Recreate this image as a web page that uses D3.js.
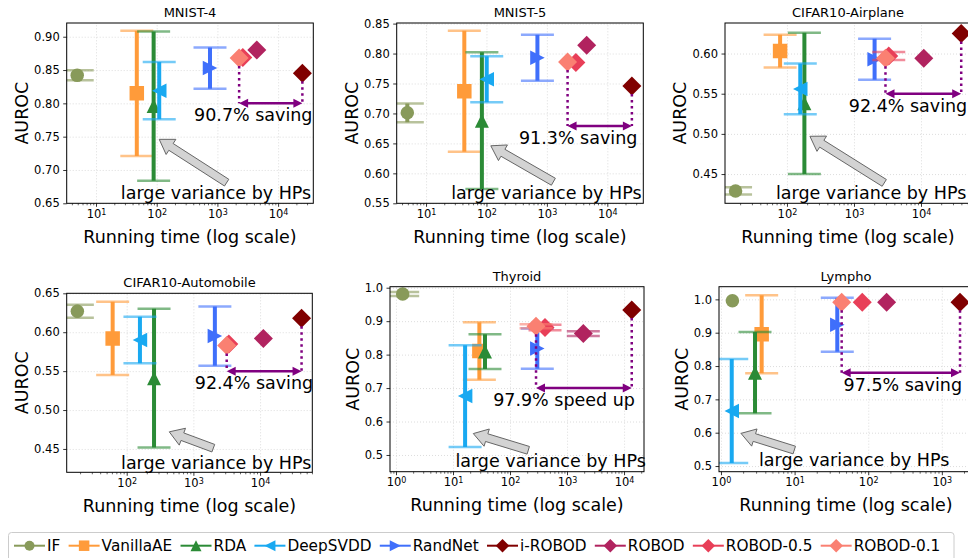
<!DOCTYPE html>
<html><head><meta charset="utf-8">
<script src="https://cdn.jsdelivr.net/npm/d3@7"></script>
<style>
body{margin:0;background:#fff}
svg{display:block}
text{font-family:"DejaVu Sans",sans-serif}
</style>
</head><body>
<svg id="c" width="968" height="558"></svg>
<script>
// ---------------- data ----------------
const datasets = ["MNIST-4", "MNIST-5", "CIFAR10-Airplane", "CIFAR10-Automobile", "Thyroid", "Lympho"];
const methods = ["IF", "VanillaAE", "RDA", "DeepSVDD", "RandNet", "i-ROBOD", "ROBOD", "ROBOD-0.5", "ROBOD-0.1"];
const runTime = [
  [4.9, 47, 89, 110, 755, 25100, 4460, 2620, 2280],
  [4.9, 43, 84, 101, 697, 25500, 4560, 3020, 2200],
  [17.1, 79, 182, 158, 2030, 39800, 11000, 3300, 2950],
  [18.2, 61.6, 257, 158, 2100, 41900, 11200, 3400, 3160],
  [1.31, 29, 36.4, 16.3, 301, 13650, 1930, 411, 286],
  [1.43, 3.57, 2.9, 1.4, 38, 1766, 178, 83, 43.6]
];
const aurocMean = [
  [0.842, 0.815, 0.796, 0.819, 0.853, 0.845, 0.880, 0.869, 0.868],
  [0.701, 0.737, 0.688, 0.757, 0.793, 0.746, 0.814, 0.785, 0.786],
  [0.429, 0.603, 0.538, 0.556, 0.593, 0.625, 0.594, 0.597, 0.594],
  [0.627, 0.592, 0.541, 0.590, 0.595, 0.618, 0.592, 0.585, 0.583],
  [0.981, 0.811, 0.809, 0.676, 0.818, 0.933, 0.863, 0.881, 0.885],
  [0.996, 0.895, 0.780, 0.665, 0.924, 0.991, 0.991, 0.991, 0.991]
];
const aurocStd = [
  [0.0075, 0.094, 0.112, 0.043, 0.031, 0, 0, 0, 0],
  [0.0155, 0.101, 0.114, 0.0385, 0.0385, 0, 0, 0, 0],
  [0.0045, 0.0205, 0.088, 0.0315, 0.0255, 0, 0, 0.005, 0],
  [0.0083, 0.047, 0.089, 0.030, 0.038, 0, 0, 0, 0],
  [0.006, 0.086, 0.052, 0.152, 0.060, 0, 0.007, 0.008, 0.006],
  [0, 0.117, 0.122, 0.156, 0.081, 0, 0, 0, 0]
];
const xLimits = [[3.29, 38000], [3.27, 39400], [11.9, 55700], [12.6, 60700], [0.785, 22400], [0.94, 2650]];
const yLimits = [[0.65, 0.9206], [0.55, 0.851], [0.4136, 0.638], [0.420, 0.65], [0.45, 1.003], [0.483, 1.038]];
const xTickExp = [[1, 2, 3, 4], [1, 2, 3, 4], [2, 3, 4], [2, 3, 4], [0, 1, 2, 3, 4], [0, 1, 2, 3]];
const yTickValues = [
  [0.65, 0.70, 0.75, 0.80, 0.85, 0.90],
  [0.55, 0.60, 0.65, 0.70, 0.75, 0.80, 0.85],
  [0.45, 0.50, 0.55, 0.60],
  [0.45, 0.50, 0.55, 0.60, 0.65],
  [0.5, 0.6, 0.7, 0.8, 0.9, 1.0],
  [0.5, 0.6, 0.7, 0.8, 0.9, 1.0]
];
const yTickFormat = [".2f", ".2f", ".2f", ".2f", ".1f", ".1f"];
const savingLabels = ["90.7% saving", "91.3% saving", "92.4% saving", "92.4% saving", "97.9% speed up", "97.5% saving"];
const savingArrowAuroc = [0.80, 0.679, 0.55, 0.55, 0.70, 0.78];
const savingTextTime = [3900, 3290, 6400, 8100, 886, 295];
const noteLabel = "large variance by HPs";
const noteTextTime = [950, 980, 1800, 2200, 515, 64.5];
const noteTextAuroc = [0.666, 0.568, 0.4266, 0.4317, 0.484, 0.5195];
const noteTipTime = [110, 118, 220, 435, 22.7, 1.87];
const noteTipAuroc = [0.746, 0.646, 0.497, 0.472, 0.564, 0.598];
const noteTailTime = [1420, 1280, 2830, 1990, 209, 9.9];
const noteTailAuroc = [0.681, 0.586, 0.439, 0.451, 0.514, 0.548];

// ---------------- styles / layout ----------------
const colors = ["#889a5a", "#ff9b3a", "#2b8b36", "#19a9f1", "#3f6ffb", "#800000", "#b1235f", "#e83f58", "#fa8072"];
const shapes = ["circle", "square", "up", "left", "right", "diamond", "diamond", "diamond", "diamond"];
const boxes = [
  {x: 66.7, y: 23, w: 246.6, h: 180.3},
  {x: 396.7, y: 23, w: 246.6, h: 180.3},
  {x: 725, y: 23, w: 246, h: 180.3},
  {x: 66.7, y: 293.3, w: 245.6, h: 179},
  {x: 390, y: 286.7, w: 254, h: 185},
  {x: 719, y: 286.7, w: 254, h: 185}
];
const PURPLE = "#800080";
const svg = d3.select("#c");
const defs = svg.append("defs");

function markerPoints(shape, cx, cy, s) {
  const h = s / 2;
  if (shape === "up") return [[cx, cy - h], [cx + h, cy + h], [cx - h, cy + h]];
  if (shape === "left") return [[cx - h, cy], [cx + h, cy - h], [cx + h, cy + h]];
  if (shape === "right") return [[cx + h, cy], [cx - h, cy - h], [cx - h, cy + h]];
  if (shape === "diamond") return [[cx, cy - h], [cx + h, cy], [cx, cy + h], [cx - h, cy]];
  if (shape === "square") return [[cx - h, cy - h], [cx + h, cy - h], [cx + h, cy + h], [cx - h, cy + h]];
  return null;
}
const closed = d3.line().curve(d3.curveLinearClosed);
function drawMarker(g, shape, cx, cy, size, color) {
  if (shape === "circle") {
    g.append("circle").attr("cx", cx).attr("cy", cy).attr("r", size / 2).attr("fill", color);
  } else {
    g.append("path").attr("d", closed(markerPoints(shape, cx, cy, size))).attr("fill", color);
  }
}
const markerSize = {circle: 13.5, square: 14.5, up: 14, left: 14.5, right: 14.5, diamond: 19};

datasets.forEach((name, p) => {
  const b = boxes[p];
  const x = d3.scaleLog().domain(xLimits[p]).range([b.x, b.x + b.w]);
  const y = d3.scaleLinear().domain(yLimits[p]).range([b.y + b.h, b.y]);
  const g = svg.append("g");
  const clipId = "clip" + p;
  defs.append("clipPath").attr("id", clipId).append("rect")
    .attr("x", b.x).attr("y", b.y).attr("width", b.w).attr("height", b.h);

  const majorX = xTickExp[p].map(e => Math.pow(10, e));
  const lo = Math.floor(Math.log10(xLimits[p][0])), hi = Math.ceil(Math.log10(xLimits[p][1]));
  const minorX = [];
  for (let e = lo; e <= hi; e++) for (let k = 2; k <= 9; k++) {
    const v = k * Math.pow(10, e);
    if (v >= xLimits[p][0] && v <= xLimits[p][1]) minorX.push(v);
  }

  // grid
  g.append("g").attr("transform", `translate(0,${b.y + b.h})`)
    .call(d3.axisBottom(x).tickValues(majorX).tickSize(-b.h).tickFormat(""))
    .call(s => { s.select(".domain").remove(); s.selectAll("line").attr("stroke", "#d4d4d4").attr("stroke-width", 0.8).attr("stroke-dasharray", "1,2"); });
  g.append("g").attr("transform", `translate(${b.x},0)`)
    .call(d3.axisLeft(y).tickValues(yTickValues[p]).tickSize(-b.w).tickFormat(""))
    .call(s => { s.select(".domain").remove(); s.selectAll("line").attr("stroke", "#d4d4d4").attr("stroke-width", 0.8).attr("stroke-dasharray", "1,2"); });

  // data
  const d = g.append("g").attr("clip-path", `url(#${clipId})`);
  methods.forEach((m, i) => {
    const cx = x(runTime[p][i]), cy = y(aurocMean[p][i]);
    const sd = aurocStd[p][i];
    if (sd > 0) {
      const y1 = y(aurocMean[p][i] - sd), y2 = y(aurocMean[p][i] + sd);
      d.append("line").attr("x1", cx).attr("x2", cx).attr("y1", y1).attr("y2", y2)
        .attr("stroke", colors[i]).attr("stroke-width", 4);
      [y1, y2].forEach(yy => d.append("line").attr("x1", cx - 16.5).attr("x2", cx + 16.5).attr("y1", yy).attr("y2", yy)
        .attr("stroke", colors[i]).attr("stroke-width", 2.5).attr("stroke-opacity", 0.6));
    }
    drawMarker(d, shapes[i], cx, cy, markerSize[shapes[i]], colors[i]);
  });

  // saving annotation
  const iR = methods.indexOf("i-ROBOD"), r01 = methods.indexOf("ROBOD-0.1");
  const xa = x(runTime[p][r01]), xb = x(runTime[p][iR]), ya = y(savingArrowAuroc[p]);
  const ann = g.append("g");
  [[xa, y(aurocMean[p][r01]) + 8], [xb, y(aurocMean[p][iR]) + 8]].forEach(([xx, yy]) => {
    ann.append("line").attr("x1", xx).attr("x2", xx).attr("y1", yy).attr("y2", ya)
      .attr("stroke", PURPLE).attr("stroke-width", 2.5).attr("stroke-dasharray", "2.5,3.5");
  });
  ann.append("line").attr("x1", xa + 6).attr("x2", xb - 6).attr("y1", ya).attr("y2", ya)
    .attr("stroke", PURPLE).attr("stroke-width", 2.5);
  ann.append("path").attr("d", closed([[xa, ya], [xa + 9, ya - 4.5], [xa + 9, ya + 4.5]])).attr("fill", PURPLE);
  ann.append("path").attr("d", closed([[xb, ya], [xb - 9, ya - 4.5], [xb - 9, ya + 4.5]])).attr("fill", PURPLE);
  ann.append("text").attr("x", x(savingTextTime[p])).attr("y", ya + 11.5).attr("dy", "0.36em")
    .attr("text-anchor", "middle").attr("font-size", "17.5px").attr("fill", "#000").text(savingLabels[p]);

  // large variance note with gray arrow
  const tx = x(noteTipTime[p]), ty = y(noteTipAuroc[p]);
  const sx = x(noteTailTime[p]), sy = y(noteTailAuroc[p]);
  const L = Math.hypot(tx - sx, ty - sy), ux = (tx - sx) / L, uy = (ty - sy) / L, nx = -uy, ny = ux;
  const hl = 14, sw = 4, hw = 9;
  const kx = tx - ux * hl, ky = ty - uy * hl;
  const arrowPts = [[sx + nx * sw, sy + ny * sw], [kx + nx * sw, ky + ny * sw], [kx + nx * hw, ky + ny * hw], [tx, ty],
    [kx - nx * hw, ky - ny * hw], [kx - nx * sw, ky - ny * sw], [sx - nx * sw, sy - ny * sw]];
  g.append("path").attr("d", closed(arrowPts)).attr("fill", "#d3d3d3").attr("stroke", "#666").attr("stroke-width", 1);
  g.append("text").attr("x", x(noteTextTime[p])).attr("y", y(noteTextAuroc[p])).attr("dy", "0.36em")
    .attr("text-anchor", "middle").attr("font-size", "17.5px").attr("fill", "#000").text(noteLabel);

  // frame
  g.append("rect").attr("x", b.x).attr("y", b.y).attr("width", b.w).attr("height", b.h)
    .attr("fill", "none").attr("stroke", "#000").attr("stroke-width", 1);

  // axes
  const ax = g.append("g").attr("transform", `translate(0,${b.y + b.h})`)
    .call(d3.axisBottom(x).tickValues(majorX).tickSize(3.5).tickSizeOuter(0).tickPadding(3).tickFormat(() => ""));
  ax.select(".domain").remove();
  ax.selectAll("line").attr("stroke", "#000").attr("stroke-width", 0.8);
  ax.selectAll(".tick text").attr("font-size", "11.5px").attr("font-family", '"DejaVu Sans",sans-serif').attr("fill", "#000")
    .each(function (v) {
      const t = d3.select(this);
      t.append("tspan").text("10");
      t.append("tspan").attr("dy", "-0.42em").attr("font-size", "8px").text(Math.round(Math.log10(v)));
    });
  const axm = g.append("g").attr("transform", `translate(0,${b.y + b.h})`)
    .call(d3.axisBottom(x).tickValues(minorX).tickSize(2).tickSizeOuter(0).tickFormat(""));
  axm.select(".domain").remove();
  axm.selectAll("line").attr("stroke", "#000").attr("stroke-width", 0.6);

  const ay = g.append("g").attr("transform", `translate(${b.x},0)`)
    .call(d3.axisLeft(y).tickValues(yTickValues[p]).tickSize(3.5).tickSizeOuter(0).tickPadding(3.5).tickFormat(d3.format(yTickFormat[p])));
  ay.select(".domain").remove();
  ay.selectAll("line").attr("stroke", "#000").attr("stroke-width", 0.8);
  ay.selectAll("text").attr("font-size", "11.5px").attr("font-family", '"DejaVu Sans",sans-serif').attr("fill", "#000");
  let maxW = 0;
  ay.selectAll("text").each(function () { maxW = Math.max(maxW, this.getComputedTextLength()); });

  // titles and labels
  g.append("text").attr("x", b.x + b.w / 2).attr("y", b.y - 6).attr("text-anchor", "middle")
    .attr("font-size", "13px").attr("fill", "#000").text(name);
  g.append("text").attr("x", b.x + b.w / 2).attr("y", b.y + b.h + 33).attr("dy", "0.36em").attr("text-anchor", "middle")
    .attr("font-size", "17.5px").attr("fill", "#000").text("Running time (log scale)");
  const lx = b.x - maxW - 19.5, ly = b.y + b.h / 2;
  g.append("text").attr("transform", `translate(${lx},${ly}) rotate(-90)`).attr("dy", "0.36em").attr("text-anchor", "middle")
    .attr("font-size", "17.5px").attr("fill", "#000").text("AUROC");
});

// legend
const leg = svg.append("g");
leg.append("rect").attr("x", 8.5).attr("y", 532.5).attr("width", 945.5).attr("height", 32).attr("rx", 3)
  .attr("fill", "#fff").attr("stroke", "#cccccc").attr("stroke-width", 1);
const legSize = {circle: 10, square: 10.5, up: 11, left: 11, right: 11, diamond: 13.5};
let lxPos = 14;
const legY = 545.7;
methods.forEach((m, i) => {
  leg.append("line").attr("x1", lxPos).attr("x2", lxPos + 31).attr("y1", legY).attr("y2", legY)
    .attr("stroke", colors[i]).attr("stroke-width", 2);
  drawMarker(leg, shapes[i], lxPos + 15.5, legY, legSize[shapes[i]], colors[i]);
  const t = leg.append("text").attr("x", lxPos + 33).attr("y", legY).attr("dy", "0.36em")
    .attr("font-size", "15.3px").attr("fill", "#000").text(m);
  lxPos = lxPos + 33 + t.node().getComputedTextLength() + 8.3;
});
</script>
</body></html>
